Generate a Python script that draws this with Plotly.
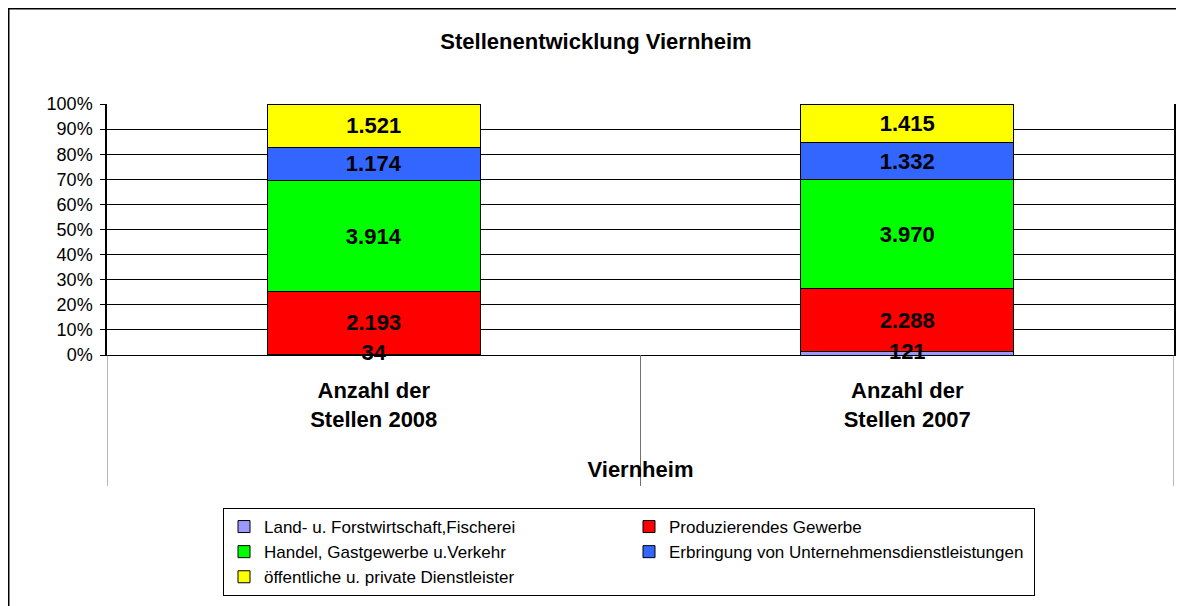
import plotly.graph_objects as go

categories = ["Anzahl der<br>Stellen 2008", "Anzahl der<br>Stellen 2007"]
series_names = [
    "Land- u. Forstwirtschaft,Fischerei",
    "Produzierendes Gewerbe",
    "Handel, Gastgewerbe u.Verkehr",
    "Erbringung von Unternehmensdienstleistungen",
    "öffentliche u. private Dienstleister",
]
land = [34, 121]
produzierend = [2193, 2288]
handel = [3914, 3970]
erbringung = [1174, 1332]
oeffentlich = [1521, 1415]
series_values = [land, produzierend, handel, erbringung, oeffentlich]
colors = ["#9999FF", "#FF0000", "#00FF00", "#3366FF", "#FFFF00"]
y_ticks = list(range(0, 101, 10))

FONT = "Arial, Liberation Sans, sans-serif"
# page has an 8px body margin: figure is offset by (8, 8)
W, H = 1176, 598
L, R, T, B = 99, 10, 96, 251
pw = W - L - R
ph = H - T - B

xs = list(range(len(categories)))
totals = [sum(s[i] for s in series_values) for i in xs]


def fmt(v):
    return f"{v:,}".replace(",", ".")


fig = go.Figure()
for k, (name, vals, col) in enumerate(zip(series_names, series_values, colors)):
    fig.add_trace(go.Bar(
        x=xs, y=vals, name=name,
        marker=dict(color=col, line=dict(color="black", width=1)),
        text=None if k == 0 else [fmt(v) for v in vals],
        textposition="none" if k == 0 else "inside", insidetextanchor="middle",
        textfont=dict(family=FONT, size=22, color="black", weight="bold"),
        width=0.4,
        hoverinfo="skip",
    ))

# labels of the tiny first series, drawn on top at the middle of its segment
fig.add_trace(go.Scatter(
    x=xs, y=[100 * v / t / 2 for v, t in zip(land, totals)],
    mode="text", text=[fmt(v) for v in land], textposition="middle center",
    textfont=dict(family=FONT, size=22, color="black", weight="bold"),
    showlegend=False, hoverinfo="skip", cliponaxis=False,
))

shapes = []
for xv in [-0.5, 0.5, 1.5]:
    shapes.append(dict(type="line", xref="x", yref="paper", x0=xv, x1=xv,
                       y0=0, y1=-131 / ph, line=dict(color="#707070", width=1)))
shapes.append(dict(type="rect", xref="paper", yref="paper",
                   x0=(0.5 - L) / pw, x1=(W + 20 - L) / pw,
                   y0=-(H + 20 - (H - B)) / ph, y1=((H - B) - 0.5) / ph,
                   line=dict(color="black", width=2), fillcolor="rgba(0,0,0,0)"))

fig.update_layout(
    width=W, height=H,
    margin=dict(l=L, r=R, t=T, b=B, autoexpand=False),
    paper_bgcolor="white", plot_bgcolor="white",
    barmode="stack", barnorm="percent",
    uniformtext=dict(minsize=22, mode="show"),
    font=dict(family=FONT, color="black"),
    title=dict(text="<b>Stellenentwicklung Viernheim</b>", xref="container", yref="container",
               x=588 / W, y=1 - 33 / H, xanchor="center", yanchor="middle",
               font=dict(family=FONT, size=22, color="black")),
    xaxis=dict(range=[-0.5, 1.5], tickvals=xs,
               ticktext=[f"<b>{c}</b>" for c in categories],
               tickfont=dict(family=FONT, size=22, color="black"),
               ticklabelstandoff=16,
               showgrid=False, zeroline=False, showline=True, linecolor="black", linewidth=1,
               ticks="", fixedrange=True,
               title=dict(text="<b>Viernheim</b>", font=dict(family=FONT, size=22, color="black"),
                          standoff=30)),
    yaxis=dict(range=[0, 100], tickvals=y_ticks, ticktext=[f"{t}%" for t in y_ticks],
               tickfont=dict(family=FONT, size=18, color="black"),
               ticklabelstandoff=4,
               showgrid=True, gridcolor="black", gridwidth=1,
               zeroline=False, showline=True, linecolor="black", linewidth=1.5, mirror=True,
               ticks="outside", ticklen=5, tickcolor="black", fixedrange=True),
    legend=dict(orientation="h", x=(215 - L) / pw, y=-153 / ph,
                xanchor="left", yanchor="top", traceorder="normal",
                entrywidth=360, entrywidthmode="pixels",
                bordercolor="black", borderwidth=1, bgcolor="white",
                font=dict(family=FONT, size=17, color="black")),
    shapes=shapes,
    showlegend=True,
)

fig.write_html("out.html")
